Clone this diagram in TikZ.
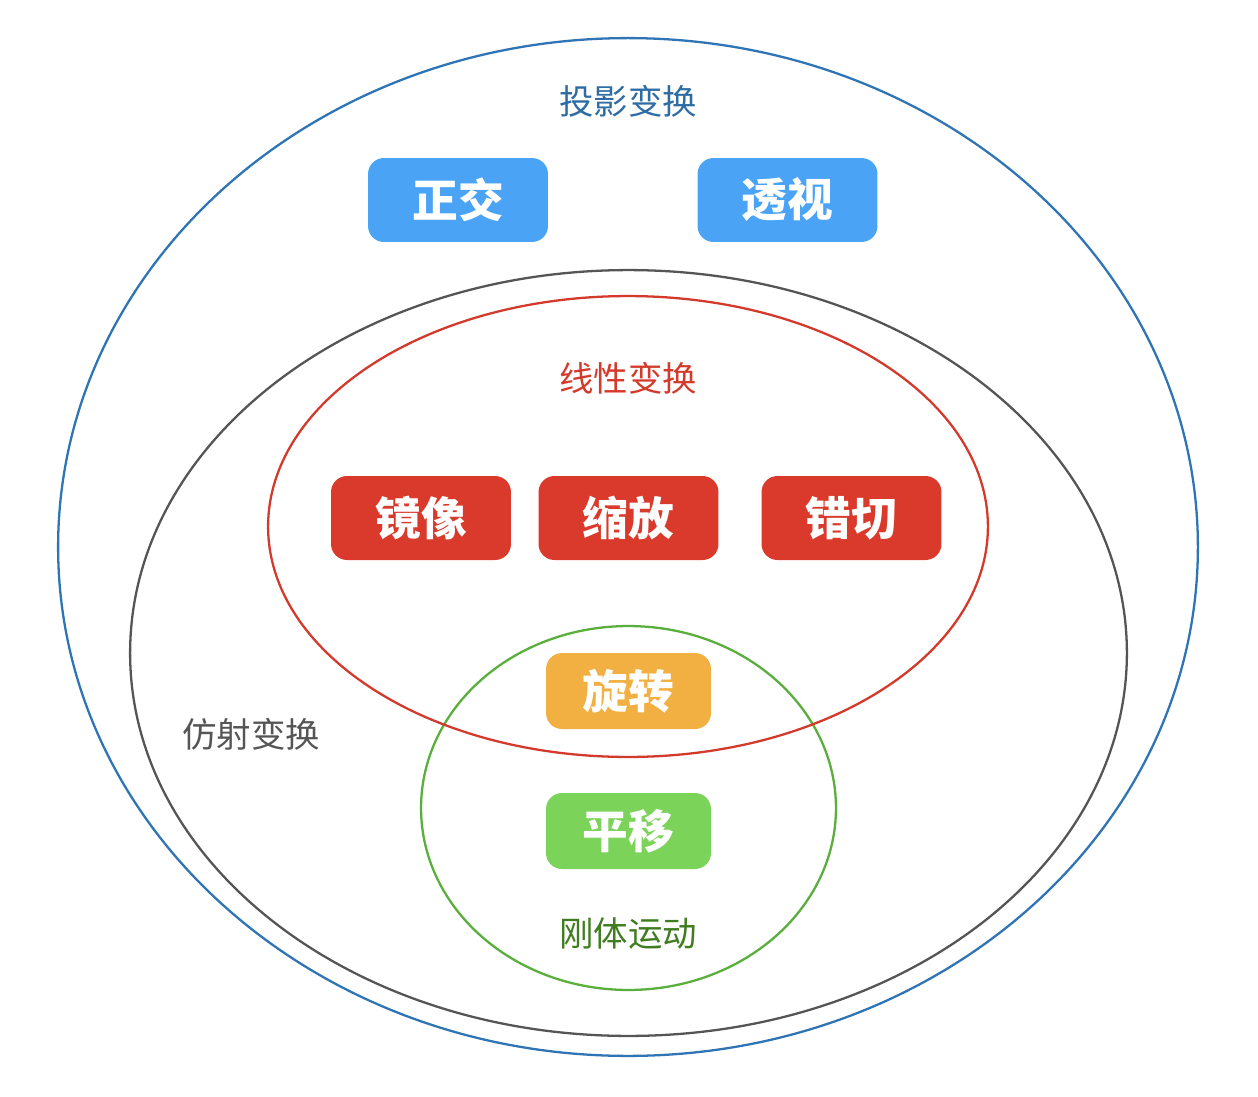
\documentclass[tikz,border=0pt]{standalone}
\usepackage{fontspec}
\setmainfont{Noto Sans CJK SC}
\usetikzlibrary{positioning, shapes.geometric}

\definecolor{projline}{HTML}{2F74B5}
\definecolor{projtext}{HTML}{2E6CA4}
\definecolor{projfill}{HTML}{4AA3F5}
\definecolor{affline}{HTML}{555555}
\definecolor{linline}{HTML}{D43A2B}
\definecolor{linfill}{HTML}{D93A2B}
\definecolor{rotfill}{HTML}{F2B043}
\definecolor{rigline}{HTML}{5AAE3C}
\definecolor{rigtext}{HTML}{3F7D20}
\definecolor{rigfill}{HTML}{7BD35A}

\begin{document}
\begin{tikzpicture}[
    x=0.02cm, y=-0.02cm,
    set/.style={draw, ellipse, line width=1.3pt, inner sep=0pt},
    setlabel/.style={font=\fontsize{19.6}{22}\selectfont},
    op/.style={
        rounded corners=0.32cm, minimum width=3.6cm, minimum height=1.68cm,
        text=white, font=\fontsize{26}{28}\selectfont\bfseries
    },
    smallop/.style={op, minimum width=3.3cm, minimum height=1.52cm}
]
\useasboundingbox (0,0) rectangle (1258,1096);

% ==========================================
% SETS
% ==========================================

\node[set, draw=projline, minimum width=22.8cm, minimum height=20.36cm] (Proj) at (628, 547) {};
\node[set, draw=affline, minimum width=19.94cm, minimum height=15.32cm] (Affine) at (628.5, 653) {};
\node[set, draw=rigline, minimum width=8.3cm, minimum height=7.28cm] (Rigid) at (628.5, 808) {};
\node[set, draw=linline, minimum width=14.4cm, minimum height=9.22cm] (Linear) at (628, 526.5) {};

% ==========================================
% LABELS
% ==========================================

\node[setlabel, text=projtext] (ProjLabel) at (628, 101) {投影变换};
\node[setlabel, text=linline] (LinLabel) at (628, 378) {线性变换};
\node[setlabel, text=affline] (AffLabel) at (251, 734) {仿射变换};
\node[setlabel, text=rigtext] (RigLabel) at (628, 934) {刚体运动};

% ==========================================
% OPERATIONS
% ==========================================

\node[op, fill=projfill] (Ortho) at (458, 200) {正交};
\node[op, fill=projfill] (Persp) at (787.5, 200) {透视};

\node[op, fill=linfill] (Mirror) at (421, 518) {镜像};
\node[op, fill=linfill] (Scale) at (628.5, 518) {缩放};
\node[op, fill=linfill] (Shear) at (851.5, 518) {错切};

\node[smallop, fill=rotfill] (Rotate) at (628.5, 691) {旋转};
\node[smallop, fill=rigfill] (Translate) at (628.5, 831) {平移};

\end{tikzpicture}
\end{document}
